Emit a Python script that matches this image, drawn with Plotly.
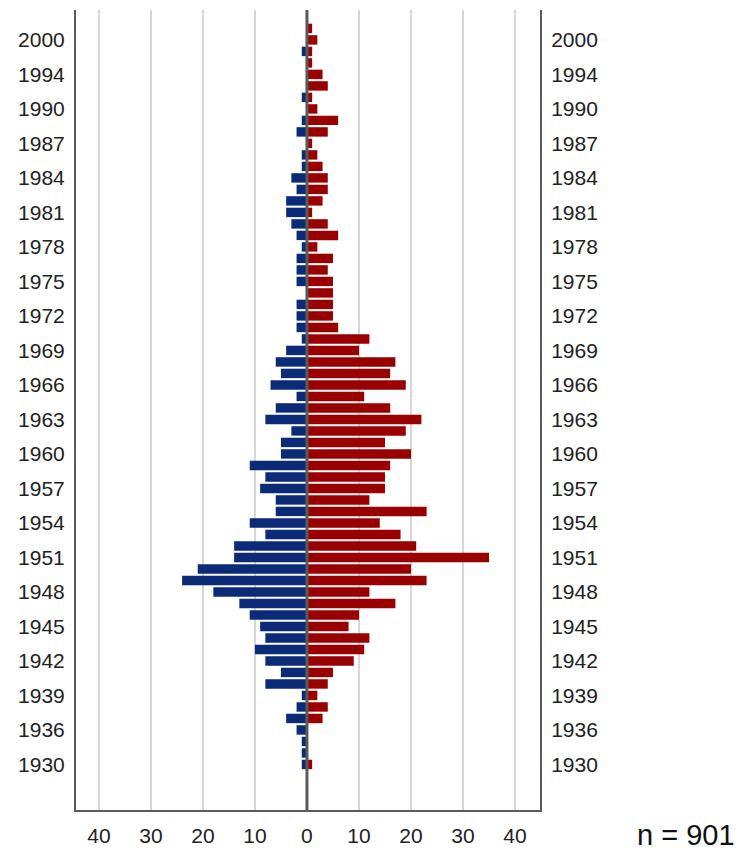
import plotly.graph_objects as go

# Categories listed top to bottom as in the chart
years = [2003, 2000, 1998, 1996, 1994, 1993, 1992, 1990, 1989, 1988,
         1987, 1986, 1985, 1984, 1983, 1982, 1981, 1980, 1979, 1978,
         1977, 1976, 1975, 1974, 1973, 1972, 1971, 1970, 1969, 1968,
         1967, 1966, 1965, 1964, 1963, 1962, 1961, 1960, 1959, 1958,
         1957, 1956, 1955, 1954, 1953, 1952, 1951, 1950, 1949, 1948,
         1947, 1946, 1945, 1944, 1943, 1942, 1941, 1940, 1939, 1938,
         1937, 1936, 1935, 1932, 1930]

left_counts = [0, 0, 1, 0, 0, 0, 1, 0, 1, 2,
               0, 1, 1, 3, 2, 4, 4, 3, 2, 1,
               2, 2, 2, 0, 2, 2, 2, 1, 4, 6,
               5, 7, 2, 6, 8, 3, 5, 5, 11, 8,
               9, 6, 6, 11, 8, 14, 14, 21, 24, 18,
               13, 11, 9, 8, 10, 8, 5, 8, 1, 2,
               4, 2, 1, 1, 1]

right_counts = [1, 2, 1, 1, 3, 4, 1, 2, 6, 4,
                1, 2, 3, 4, 4, 3, 1, 4, 6, 2,
                5, 4, 5, 5, 5, 5, 6, 12, 10, 17,
                16, 19, 11, 16, 22, 19, 15, 20, 16, 15,
                15, 12, 23, 14, 18, 21, 35, 20, 23, 12,
                17, 10, 8, 12, 11, 9, 5, 4, 2, 4,
                3, 0, 0, 0, 1]

tick_years = [2000, 1994, 1990, 1987, 1984, 1981, 1978, 1975, 1972, 1969,
              1966, 1963, 1960, 1957, 1954, 1951, 1948, 1945, 1942, 1939,
              1936, 1930]

x_ticks = [-40, -30, -20, -10, 0, 10, 20, 30, 40]
x_tick_labels = ["40", "30", "20", "10", "0", "10", "20", "30", "40"]

n_text = "n = 901"

BLUE = "#0b2a78"
RED = "#990000"
AXIS = "#5a5a5a"
GRID = "#d6d6d6"
FONT = "Liberation Sans, Arial, sans-serif"

cats = [str(y) for y in years]
cat_order = list(reversed(cats))  # bottom to top
tick_cats = [str(y) for y in tick_years]

fig = go.Figure()
fig.add_trace(go.Bar(
    y=cats, x=[-v for v in left_counts], orientation="h",
    marker=dict(color=BLUE, line=dict(width=0)),
    yaxis="y", xaxis="x", showlegend=False, hoverinfo="skip",
))
fig.add_trace(go.Bar(
    y=cats, x=right_counts, orientation="h",
    marker=dict(color=RED, line=dict(width=0)),
    yaxis="y2", xaxis="x", showlegend=False, hoverinfo="skip",
))

n_cat = len(cats)
yrange = [-3.96, n_cat - 1 + 1.6]

yaxis_common = dict(
    type="category", categoryorder="array", categoryarray=cat_order,
    range=yrange, tickmode="array", tickvals=tick_cats, ticktext=tick_cats,
    showgrid=False, zeroline=False, showline=True, linecolor=AXIS, linewidth=2,
    ticks="outside", ticklen=5, tickcolor="rgba(0,0,0,0)", automargin=False,
    tickfont=dict(family=FONT, size=21, color="#222222"),
)

fig.update_layout(
    width=746, height=850,
    margin=dict(l=76, r=206, t=10, b=40),
    paper_bgcolor="white", plot_bgcolor="white",
    barmode="relative", bargap=0.18,
    xaxis=dict(
        range=[-44.4, 44.8], tickmode="array", tickvals=x_ticks, ticktext=x_tick_labels,
        showgrid=True, gridcolor=GRID, gridwidth=2,
        zeroline=False, showline=True, linecolor=AXIS, linewidth=2,
        ticks="outside", ticklen=6, tickcolor="rgba(0,0,0,0)", automargin=False,
        tickfont=dict(family=FONT, size=21, color="#222222"),
    ),
    yaxis=dict(side="left", **yaxis_common),
    yaxis2=dict(side="right", overlaying="y", **yaxis_common),
    shapes=[dict(type="line", xref="x", yref="paper", x0=0, x1=0, y0=0, y1=1,
                 line=dict(color=AXIS, width=3), layer="above")],
    annotations=[dict(text=n_text, xref="paper", yref="paper", x=1.425, y=-0.031,
                      xanchor="right", yanchor="middle", showarrow=False,
                      font=dict(family=FONT, size=29, color="#111111"))],
)

fig.write_html(
    "out.html",
    config={"displayModeBar": False},
    post_script="document.body.style.margin='0';document.body.style.overflow='hidden';",
)
